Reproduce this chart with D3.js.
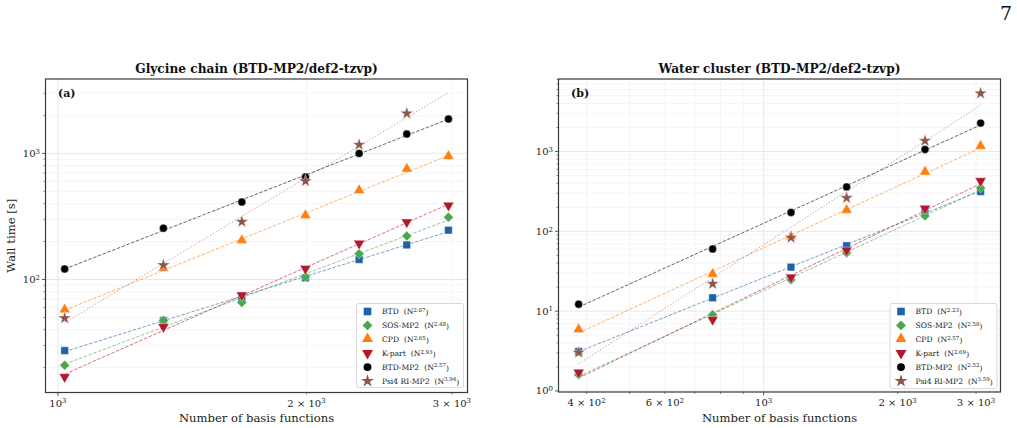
<!DOCTYPE html>
<html><head><meta charset="utf-8">
<script src="https://cdn.jsdelivr.net/npm/d3@7"></script>
<style>
body{margin:0;background:#fff}
svg{display:block}
text{font-family:'DejaVu Serif',serif;fill:#222}
</style>
</head><body>
<svg id="c" width="1017" height="428"></svg>
<script>
// ---------- data ----------
const seriesNames = ["BTD", "SOS-MP2", "CPD", "K-part", "BTD-MP2", "Psi4 RI-MP2"];
const seriesColors = ["#1f62a8", "#4aa84a", "#ff7f0e", "#b2182b", "#000000", "#8c564b"];
const seriesMarkers = ["square", "diamond", "triUp", "triDown", "circle", "star"];

// Panel (a) Glycine chain
const glyX = [1019, 1342, 1670, 1994, 2316, 2645, 2971];
const glyBTD = [27.3, 47.3, 71.9, 103, 144, 188, 246];
const glySOS = [20.9, 47.3, 65.7, 105, 160, 221, 312];
const glyCPD = [57.1, 122, 203, 320, 505, 747, 942];
const glyKpart = [16.9, 42.1, 75.1, 122, 193, 285, 386];
const glyBTDMP2 = [121, 255, 411, 649, 1000, 1423, 1871];
const glyPsi4 = [49.3, 130, 287, 603, 1171, 2075, null];
const glyExp = ["2.07", "2.48", "2.65", "2.93", "2.57", "3.94"];

// Panel (b) Water cluster
const watX = [384, 768, 1152, 1536, 2304, 3072];
const watBTD = [3.12, 14.7, 35.6, 66, 177, 315];
const watSOS = [1.60, 9.0, 24.7, 53.5, 156, 350];
const watCPD = [5.83, 28.8, 85, 182, 550, 1156];
const watKpart = [1.71, 7.8, 26.5, 57.8, 193, 428];
const watBTDMP2 = [12.2, 60, 172, 360, 1060, 2268];
const watPsi4 = [3.03, 22.0, 83.3, 262, 1361, 5346];
const watExp = ["2.23", "2.58", "2.57", "2.69", "2.52", "3.59"];

// tick definitions
const glyXTickLabels = [[1000, "10", "3"], [2000, "2 × 10", "3"], [3000, "3 × 10", "3"]];
const glyYTickLabels = [[100, "10", "2"], [1000, "10", "3"]];
const watXTickLabels = [[400, "4 × 10", "2"], [600, "6 × 10", "2"], [1000, "10", "3"], [2000, "2 × 10", "3"], [3000, "3 × 10", "3"]];
const watYTickLabels = [[1, "10", "0"], [10, "10", "1"], [100, "10", "2"], [1000, "10", "3"]];

// ---------- layout ----------
const panels = [
  {title: "Glycine chain (BTD-MP2/def2-tzvp)", tag: "(a)", x: glyX,
   ys: [glyBTD, glySOS, glyCPD, glyKpart, glyBTDMP2, glyPsi4], exps: glyExp,
   xt: glyXTickLabels, yt: glyYTickLabels,
   box: {l: 45.5, r: 467.5, t: 79, b: 392.5}, xd: [966, 3133], yd: [12.7, 3890],
   legend: {l: 356.5, t: 303.5, w: 107, h: 84}, ylabel: true},
  {title: "Water cluster (BTD-MP2/def2-tzvp)", tag: "(b)", x: watX,
   ys: [watBTD, watSOS, watCPD, watKpart, watBTDMP2, watPsi4], exps: watExp,
   xt: watXTickLabels, yt: watYTickLabels,
   box: {l: 558.5, r: 1000.5, t: 79, b: 392}, xd: [346, 3405], yd: [0.971, 8090],
   legend: {l: 890, t: 303.5, w: 107, h: 85}, ylabel: false}
];

const svg = d3.select("#c");

// page number
svg.append("text").attr("x", 1006).attr("y", 20).attr("text-anchor", "middle")
  .style("font-size", "19px").style("fill", "#111").text("7");

function minorTicks(dom) {
  const out = [];
  const lo = Math.floor(Math.log10(dom[0])), hi = Math.ceil(Math.log10(dom[1]));
  for (let e = lo; e <= hi; e++) for (let m = 1; m <= 9; m++) {
    const v = m * Math.pow(10, e);
    if (v >= dom[0] && v <= dom[1]) out.push({v, major: m === 1});
  }
  return out;
}

function markerPath(type, size) {
  switch (type) {
    case "square": return d3.symbol(d3.symbolSquare, size * 1.0)();
    case "diamond": return d3.symbol(d3.symbolSquare, size * 0.85)();
    case "triUp": return d3.symbol(d3.symbolTriangle, size * 0.9)();
    case "triDown": return d3.symbol(d3.symbolTriangle, size * 0.9)();
    case "circle": return d3.symbol(d3.symbolCircle, size * 0.85)();
    case "star": return d3.symbol(d3.symbolStar, size * 0.9)();
  }
}
function markerTransform(type, x, y) {
  if (type === "diamond") return `translate(${x},${y}) rotate(45)`;
  if (type === "triDown") return `translate(${x},${y}) rotate(180)`;
  if (type === "triUp") return `translate(${x},${y - 0.5})`;
  return `translate(${x},${y})`;
}

function supText(sel, base, sup, supSize) {
  sel.append("tspan").text(base);
  sel.append("tspan").attr("dy", "-0.45em").style("font-size", supSize).text(sup);
}

panels.forEach(p => {
  const B = p.box;
  const x = d3.scaleLog().domain(p.xd).range([B.l, B.r]);
  const y = d3.scaleLog().domain(p.yd).range([B.b, B.t]);
  const g = svg.append("g");

  // background
  g.append("rect").attr("x", B.l).attr("y", B.t).attr("width", B.r - B.l).attr("height", B.b - B.t).attr("fill", "#fff");

  // gridlines
  const xm = minorTicks(p.xd), ym = minorTicks(p.yd);
  g.selectAll(".gx").data(xm).enter().append("line")
    .attr("x1", d => x(d.v)).attr("x2", d => x(d.v)).attr("y1", B.t).attr("y2", B.b)
    .attr("stroke", d => d.major ? "#e2e2e2" : "#eeeeee").attr("stroke-width", d => d.major ? 0.8 : 0.6);
  g.selectAll(".gy").data(ym).enter().append("line")
    .attr("y1", d => y(d.v)).attr("y2", d => y(d.v)).attr("x1", B.l).attr("x2", B.r)
    .attr("stroke", d => d.major ? "#e2e2e2" : "#eeeeee").attr("stroke-width", d => d.major ? 0.8 : 0.6);

  // fits
  const xmin = d3.min(p.x), xmax = d3.max(p.x);
  p.ys.forEach((vals, i) => {
    const pts = p.x.map((xv, j) => [xv, vals[j]]).filter(d => d[1] != null);
    const lx = pts.map(d => Math.log10(d[0])), ly = pts.map(d => Math.log10(d[1]));
    const mx = d3.mean(lx), my = d3.mean(ly);
    const slope = d3.sum(lx.map((v, k) => (v - mx) * (ly[k] - my))) / d3.sum(lx.map(v => (v - mx) ** 2));
    const icpt = my - slope * mx;
    const f = xv => Math.pow(10, icpt + slope * Math.log10(xv));
    const line = d3.line().x(d => x(d)).y(d => y(f(d)));
    g.append("path").attr("d", line([xmin, xmax])).attr("fill", "none")
      .attr("stroke", seriesColors[i]).attr("stroke-opacity", 0.6)
      .attr("stroke-width", 1)
      .attr("stroke-dasharray", i === 5 ? "1.2,2" : "3.5,1.6");
  });

  // markers
  p.ys.forEach((vals, i) => {
    const pts = p.x.map((xv, j) => [xv, vals[j]]).filter(d => d[1] != null);
    g.selectAll(null).data(pts).enter().append("path")
      .attr("d", markerPath(seriesMarkers[i], 58))
      .attr("transform", d => markerTransform(seriesMarkers[i], x(d[0]), y(d[1])))
      .attr("fill", seriesColors[i]).attr("stroke", "#fff").attr("stroke-width", 0.4);
  });

  // ticks
  const tickCol = "#333";
  g.selectAll(".tx").data(xm).enter().append("line")
    .attr("x1", d => x(d.v)).attr("x2", d => x(d.v)).attr("y1", B.b).attr("y2", d => B.b + (d.major ? 3.5 : 2))
    .attr("stroke", tickCol).attr("stroke-width", d => d.major ? 0.8 : 0.6);
  g.selectAll(".ty").data(ym).enter().append("line")
    .attr("y1", d => y(d.v)).attr("y2", d => y(d.v)).attr("x1", B.l).attr("x2", d => B.l - (d.major ? 3.5 : 2))
    .attr("stroke", tickCol).attr("stroke-width", d => d.major ? 0.8 : 0.6);

  p.xt.forEach(([v, base, sup]) => {
    const t = g.append("text").attr("x", x(v)).attr("y", B.b + 14).attr("text-anchor", "middle")
      .style("font-size", "10px");
    supText(t, base, sup, "7px");
  });
  p.yt.forEach(([v, base, sup]) => {
    const t = g.append("text").attr("x", B.l - 5.5).attr("y", y(v) + 3.5).attr("text-anchor", "end")
      .style("font-size", "10px");
    supText(t, base, sup, "7px");
  });

  // spines
  g.append("rect").attr("x", B.l).attr("y", B.t).attr("width", B.r - B.l).attr("height", B.b - B.t)
    .attr("fill", "none").attr("stroke", "#3a3a3a").attr("stroke-width", 1.2);

  // title, tag, labels
  const cx = (B.l + B.r) / 2;
  g.append("text").attr("x", cx).attr("y", 73).attr("text-anchor", "middle")
    .style("font-size", "12.2px").style("font-weight", "bold").style("fill", "#111").text(p.title);
  g.append("text").attr("x", B.l + 12.5).attr("y", B.t + 18).style("font-size", "11px")
    .style("font-weight", "bold").style("fill", "#111").text(p.tag);
  g.append("text").attr("x", cx).attr("y", 422).attr("text-anchor", "middle")
    .style("font-size", "11.6px").text("Number of basis functions");
  if (p.ylabel) {
    g.append("text").attr("transform", `translate(15,${(B.t + B.b) / 2}) rotate(-90)`)
      .attr("text-anchor", "middle").style("font-size", "11.6px").text("Wall time [s]");
  }

  // legend
  const L = p.legend;
  g.append("rect").attr("x", L.l).attr("y", L.t).attr("width", L.w).attr("height", L.h).attr("rx", 2)
    .attr("fill", "#fff").attr("fill-opacity", 0.85).attr("stroke", "#d0d0d0").attr("stroke-width", 0.8);
  seriesNames.forEach((nm, i) => {
    const ry = L.t + 8 + i * 13.9;
    g.append("path").attr("d", markerPath(seriesMarkers[i], 58))
      .attr("transform", markerTransform(seriesMarkers[i], L.l + 11, ry))
      .attr("fill", seriesColors[i]);
    const t = g.append("text").attr("x", L.l + 25.5).attr("y", ry + 2.8).style("font-size", "7.6px");
    t.append("tspan").text(nm);
    t.append("tspan").attr("dx", "5").text("(N");
    t.append("tspan").attr("dy", "-0.45em").style("font-size", "5.5px").text(p.exps[i]);
    t.append("tspan").attr("dy", "0.45em").text(")");
  });
});
</script>
</body></html>
